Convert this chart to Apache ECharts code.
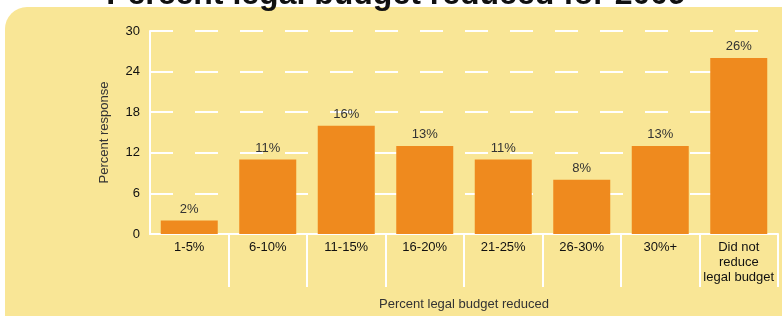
<!DOCTYPE html>
<html>
<head>
<meta charset="utf-8">
<script src="https://cdn.jsdelivr.net/npm/echarts@6/dist/echarts.min.js"></script>
<style>
html,body{margin:0;padding:0;background:#fff;}
#chart{width:782px;height:316px;}
</style>
</head>
<body>
<div id="chart"></div>
<script>
var categories = ['1-5%', '6-10%', '11-15%', '16-20%', '21-25%', '26-30%', '30%+', 'Did not\nreduce\nlegal budget'];
var values = [2, 11, 16, 13, 11, 8, 13, 26];
var yTicks = [0, 6, 12, 18, 24, 30];
var titleText = 'Percent legal budget reduced for 2009';

var chart = echarts.init(document.getElementById('chart'));
var n = categories.length;
chart.setOption({
  animation: false,
  backgroundColor: '#ffffff',
  textStyle: { fontFamily: 'Liberation Sans, Arial, sans-serif' },
  graphic: [
    { type: 'rect', z: -10, silent: true, shape: { x: 5, y: 7, width: 820, height: 360, r: 22 }, style: { fill: '#F9E696' } },
    { type: 'text', z: 10, silent: true, style: { text: titleText, x: 396, y: -5, align: 'center', verticalAlign: 'middle', font: 'bold 32px "Liberation Sans", Arial, sans-serif', fill: '#111' } }
  ],
  grid: { left: 150, right: 4, top: 31, bottom: 79 },
  xAxis: {
    type: 'category',
    data: categories,
    name: 'Percent legal budget reduced',
    nameLocation: 'middle',
    nameGap: 64,
    nameTextStyle: { fontSize: 13, color: '#333' },
    axisLine: { lineStyle: { color: '#ffffff', width: 2 } },
    axisTick: { show: true, length: 53, lineStyle: { color: '#ffffff', width: 2 }, interval: function (idx) { return idx > 0; } },
    axisLabel: { fontSize: 13, color: '#111', margin: 6, lineHeight: 15, interval: 0 }
  },
  yAxis: {
    type: 'value',
    min: yTicks[0],
    max: yTicks[yTicks.length - 1],
    interval: 6,
    name: 'Percent response',
    nameLocation: 'middle',
    nameGap: 39,
    nameTextStyle: { fontSize: 13, color: '#333' },
    axisLine: { show: true, lineStyle: { color: '#ffffff', width: 2 } },
    axisTick: { show: false },
    axisLabel: { fontSize: 13, color: '#111', margin: 10 },
    splitLine: { show: true, lineStyle: { color: '#ffffff', width: 2, type: [23, 22] } }
  },
  series: [{
    type: 'bar',
    data: values,
    barWidth: 57,
    itemStyle: { color: '#EF8A1E' },
    label: { show: true, position: 'top', distance: 5, formatter: '{c}%', fontSize: 13, color: '#333' }
  }]
});
</script>
</body>
</html>
